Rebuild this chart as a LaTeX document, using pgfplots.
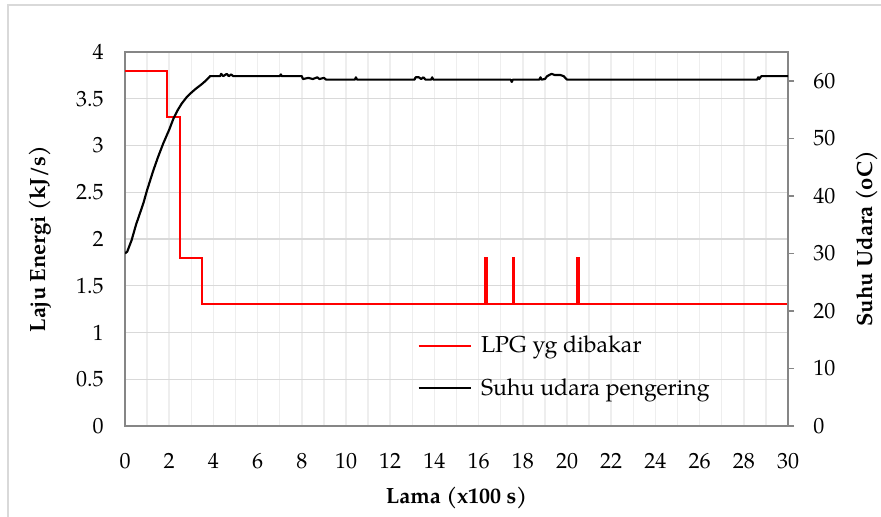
\documentclass[border=0pt]{standalone}
\usepackage{fontspec}
\setmainfont{TeX Gyre Pagella}
\usepackage{pgfplots}
\pgfplotsset{compat=1.18}
\definecolor{framegray}{RGB}{134,134,134}
\definecolor{majgrid}{RGB}{217,217,217}
\definecolor{mingrid}{RGB}{238,238,238}
\definecolor{outer}{RGB}{217,217,217}
\begin{document}
\begin{tikzpicture}
\useasboundingbox (0,0) rectangle (660.75pt,387.75pt);
\draw[outer, line width=1.5pt] (6pt,-5pt) -- (6pt,384pt) -- (670pt,384pt);
\pgfplotsset{
  every tick label/.append style={font=\fontsize{16.5}{19}\selectfont},
  /pgf/number format/assume math mode=true,
}
\begin{axis}[
  at={(93.75pt,68.25pt)}, anchor=south west, scale only axis,
  width=497.25pt, height=280.5pt,
  xmin=0, xmax=30, ymin=0, ymax=4,
  xtick distance=2, ytick distance=0.5, minor x tick num=1,
  xmajorgrids, xminorgrids, ymajorgrids,
  major x grid style={draw=mingrid, line width=1.1pt},
  minor x grid style={draw=mingrid, line width=1.1pt},
  major y grid style={draw=majgrid, line width=1.1pt},
  axis line style={draw=framegray, line width=1.2pt},
  tick style={draw=none},
  yticklabel style={/pgf/number format/fixed, xshift=-12.5pt},
  xticklabel style={yshift=-17pt},
  xlabel={\textbf{Lama (x100 s)}},
  ylabel={\textbf{Laju Energi (kJ/s)}},
  label style={font=\fontsize{16.5}{19}\selectfont},
  xlabel style={at={(axis description cs:0.5,0)}, anchor=center, yshift=-54pt},
  ylabel style={at={(axis description cs:-0.128,0.5)}, anchor=center},
]
\addplot[red, line width=1.5pt, line join=miter] coordinates {
(0,3.8) (1.9,3.8) (1.9,3.3) (2.5,3.3) (2.5,1.8) (3.5,1.8) (3.5,1.3)
(16.3,1.3) (16.3,1.8) (16.37,1.8) (16.37,1.3)
(17.55,1.3) (17.55,1.8) (17.62,1.8) (17.62,1.3)
(20.45,1.3) (20.45,1.8) (20.53,1.8) (20.53,1.3) (30,1.3)
};
\end{axis}
\begin{axis}[
  at={(93.75pt,68.25pt)}, anchor=south west, scale only axis,
  width=497.25pt, height=280.5pt,
  xmin=0, xmax=30, ymin=0, ymax=65,
  axis x line=none, axis y line*=right,
  ytick={0,10,20,30,40,50,60},
  axis line style={draw=framegray, line width=1.2pt, -},
  y tick style={draw=framegray, line width=1.2pt},
  tick align=outside, major tick length=4.5pt,
  yticklabel style={xshift=11pt},
  ylabel={\textbf{Suhu Udara (oC)}},
  ylabel style={font=\fontsize{16.5}{19}\selectfont, at={(axis description cs:1.119,0.5)}, anchor=center},
  legend style={at={(axis description cs:0.435,0.255)}, anchor=north west, draw=none, fill=none,
    font=\fontsize{17.3}{20}\selectfont, row sep=14pt,
    /tikz/every odd column/.append style={column sep=5pt}},
  legend cell align=left,
  legend image code/.code={\draw[#1] (0pt,0pt) -- (39pt,0pt);},
]
\addlegendimage{red, line width=1.5pt}
\addlegendentry{LPG yg dibakar}
\addplot[black, line width=1.6pt, line join=round] coordinates {
(0,30.0) (0.1,30.3) (0.3,32.3) (0.5,35.0) (0.83,38.7) (1.0,41.0) (1.28,44.4)
(1.5,46.8) (1.73,49.1) (2.0,51.5) (2.19,53.4) (2.4,55.0) (2.56,56.0) (2.8,57.2)
(3.02,58.0) (3.2,58.6) (3.47,59.4) (3.65,60.0) (3.85,60.8)
(4.3,60.8) (4.35,61.2) (4.45,60.8) (4.6,61.2) (4.7,60.8) (4.8,61.1) (4.9,60.8)
(7.0,60.8) (7.05,61.1) (7.1,60.8) (8.0,60.8) (8.05,60.3) (8.3,60.5) (8.5,60.3)
(8.7,60.6) (8.8,60.3) (9.0,60.5) (9.1,60.2)
(10.4,60.2) (10.45,60.6) (10.5,60.2)
(13.1,60.2) (13.15,60.6) (13.3,60.6) (13.4,60.3) (13.5,60.6) (13.6,60.2)
(13.85,60.2) (13.9,60.6) (13.95,60.2)
(17.45,60.2) (17.5,59.8) (17.55,60.2)
(18.75,60.2) (18.8,60.6) (18.85,60.2)
(19.0,60.3) (19.1,60.8) (19.3,61.2) (19.45,61.0) (19.7,61.0) (19.85,60.8) (20.0,60.2)
(28.6,60.2) (28.65,60.6) (28.7,60.3) (28.75,60.6) (28.8,60.8) (30,60.8)
};
\addlegendentry{Suhu udara pengering}
\end{axis}
\end{tikzpicture}
\end{document}
